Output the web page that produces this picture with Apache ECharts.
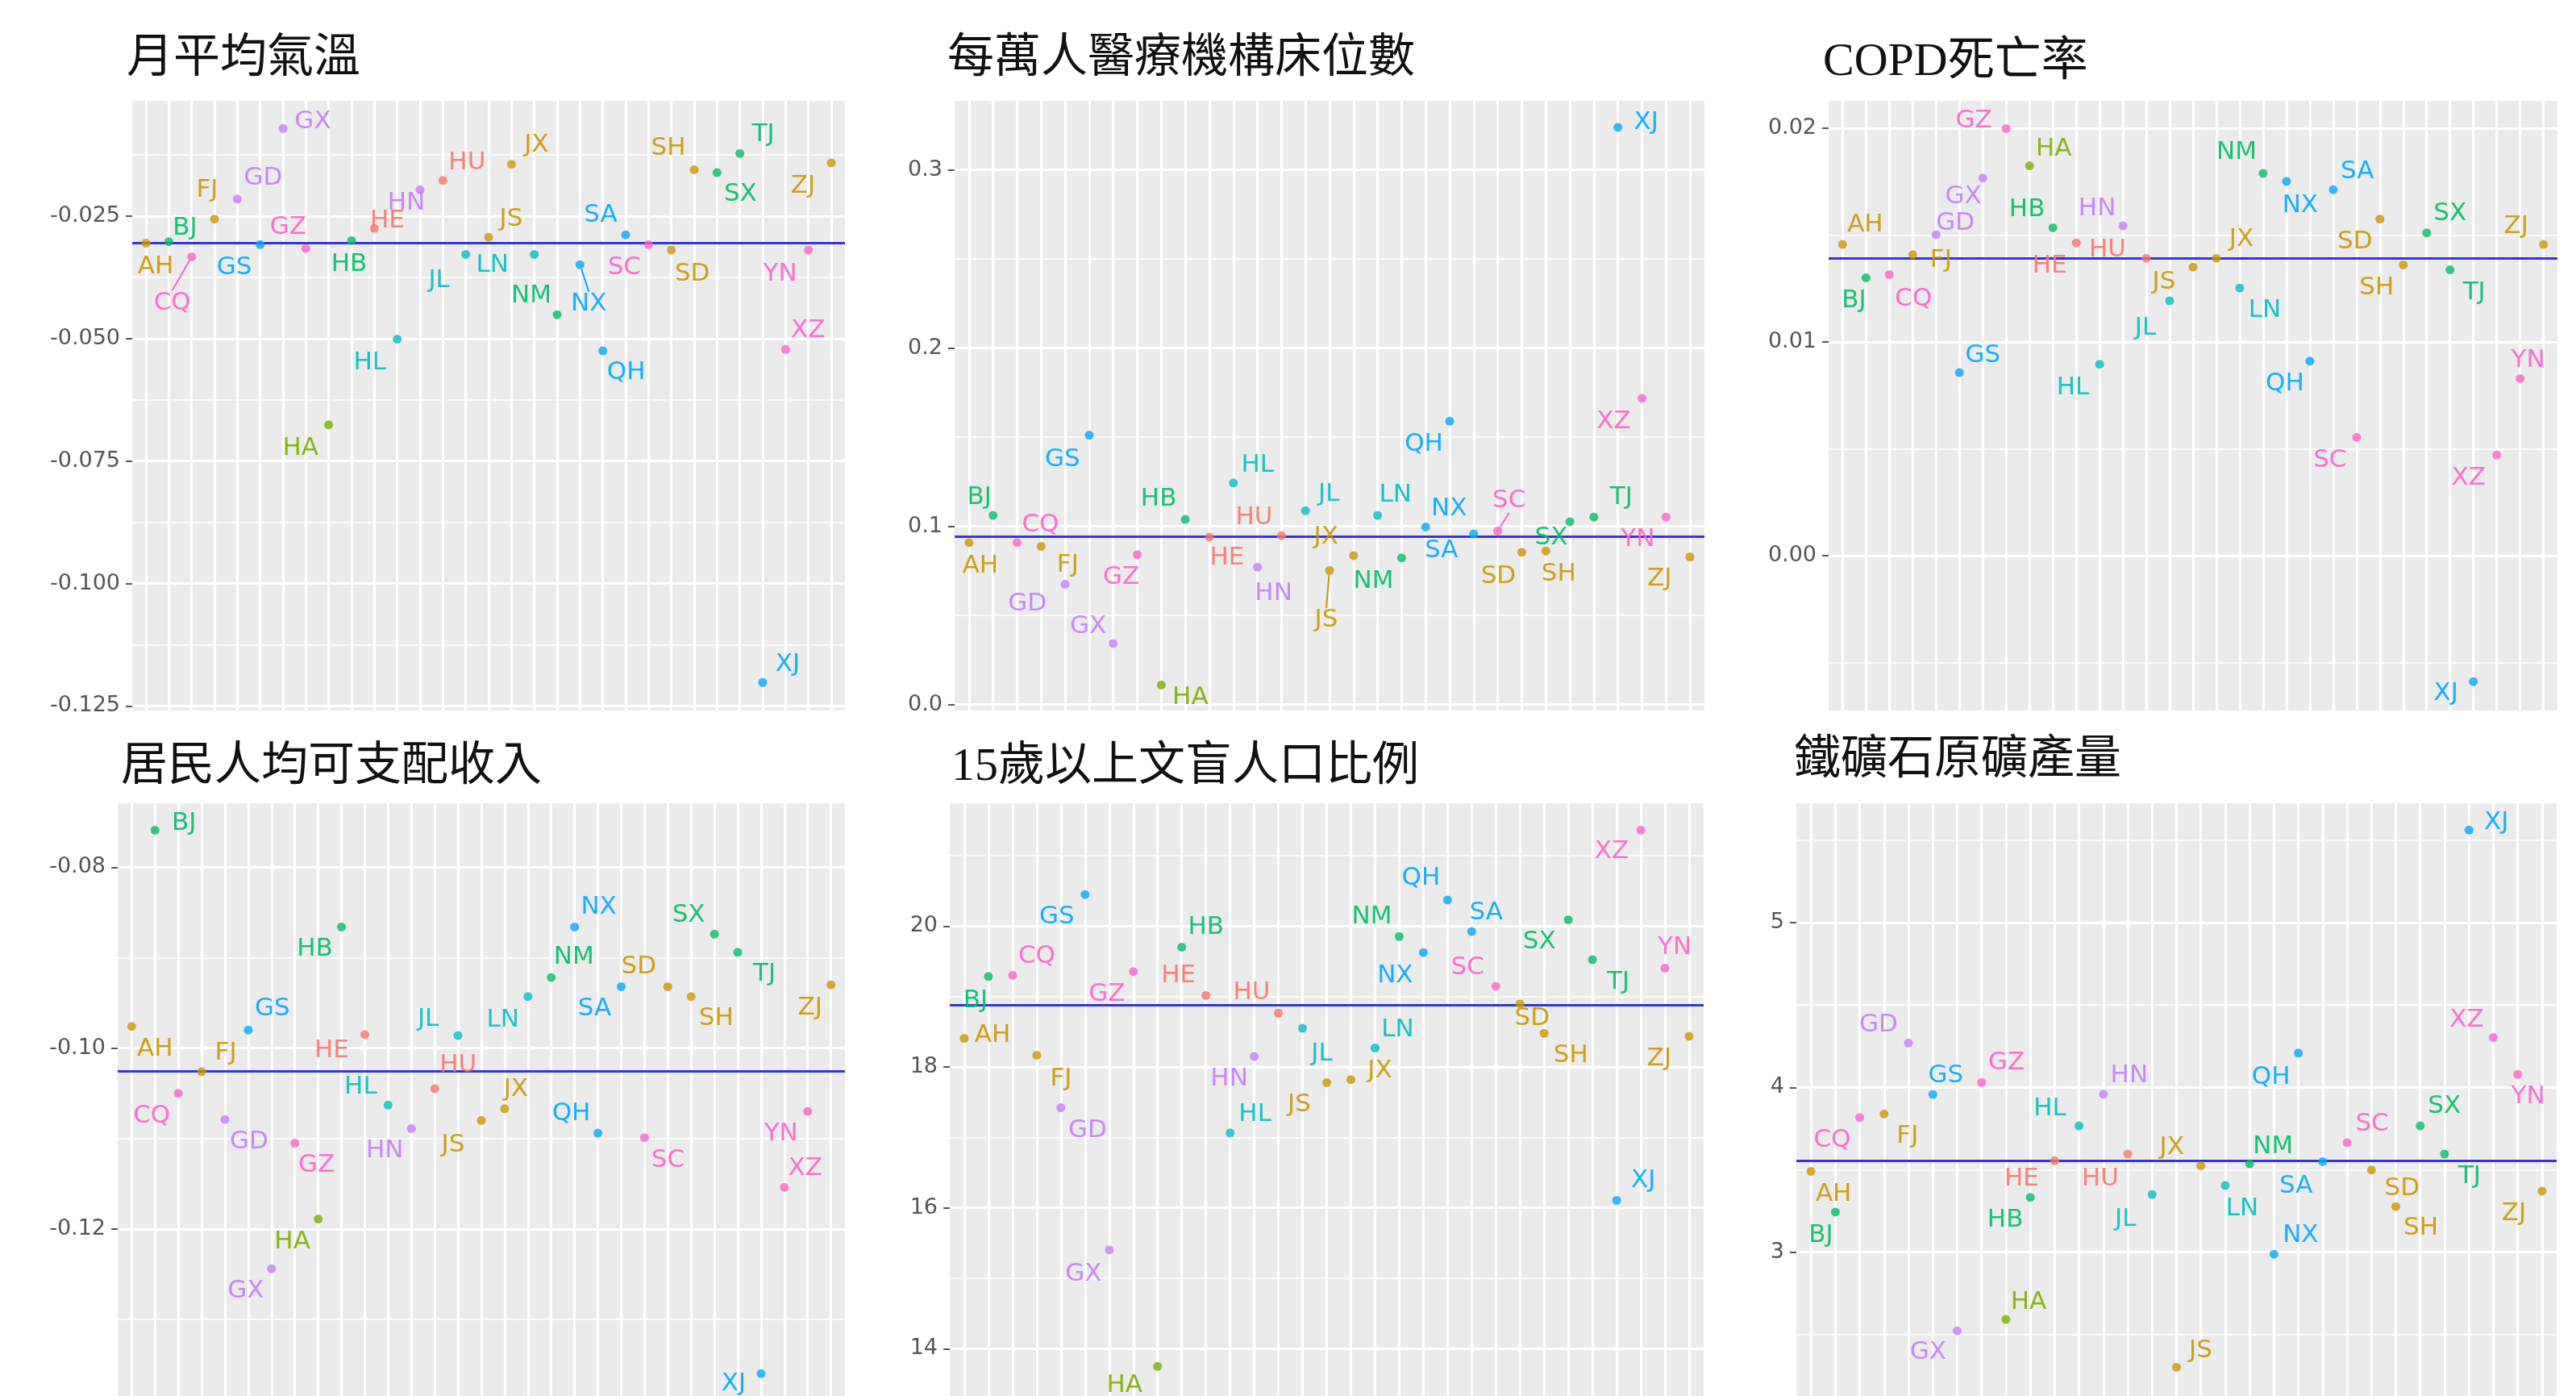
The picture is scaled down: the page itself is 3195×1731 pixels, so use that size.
<!DOCTYPE html>
<html><head><meta charset="utf-8">
<script src="https://cdn.jsdelivr.net/npm/echarts@6/dist/echarts.min.js"></script>
<style>html,body{margin:0;padding:0;background:#fff}#c{width:3195px;height:1731px}</style>
</head><body><div id="c"></div>
<script>
// ---------------- data ----------------
const provinces = ['AH','BJ','CQ','FJ','GD','GS','GX','GZ','HA','HB','HE','HL','HN','HU','JL','JS','JX','LN','NM','NX','QH','SA','SC','SD','SH','SX','TJ','XJ','XZ','YN','ZJ'];
// region group of each province (colour group)
const provinceRegion = [1,3,7,1,6,5,6,7,2,3,0,4,6,0,4,1,1,4,3,5,5,5,7,1,1,3,3,5,7,7,1];
const regionColors = ['#F8766D','#CD9600','#7CAE00','#00BE67','#00BFC4','#00A9FF','#C77CFF','#FF61CC'];

const panelTitles = ['月平均氣溫','每萬人醫療機構床位數','COPD死亡率','居民人均可支配收入','15歲以上文盲人口比例','鐵礦石原礦產量'];

const monthlyTemperature = [-0.0305,-0.0302,-0.0333,-0.0256,-0.0215,-0.0308,-0.0071,-0.0316,-0.0676,-0.0300,-0.0275,-0.0501,-0.0196,-0.0177,-0.0328,-0.0293,-0.0144,-0.0328,-0.0451,-0.0349,-0.0525,-0.0288,-0.0308,-0.0319,-0.0155,-0.0161,-0.0122,-0.1202,-0.0522,-0.0319,-0.0141];
const hospitalBeds = [0.0909,0.1062,0.0909,0.0888,0.0675,0.1512,0.0343,0.0842,0.0110,0.1039,0.0940,0.1244,0.0771,0.0948,0.1088,0.0753,0.0836,0.1062,0.0823,0.0997,0.1590,0.0958,0.0974,0.0855,0.0862,0.1026,0.1052,0.3239,0.1719,0.1052,0.0829];
const copdMortality = [0.01456,0.01300,0.01315,0.01408,0.01502,0.00856,0.01767,0.01998,0.01824,0.01534,0.01463,0.00895,0.01543,0.01391,0.01192,0.01350,0.01391,0.01252,0.01788,0.01751,0.00910,0.01712,0.00553,0.01575,0.01360,0.01510,0.01337,-0.00590,0.00470,0.00828,0.01456];
const disposableIncome = [-0.0976,-0.0759,-0.1050,-0.1026,-0.1079,-0.0980,-0.1244,-0.1105,-0.1189,-0.0866,-0.0985,-0.1063,-0.1089,-0.1045,-0.0986,-0.1080,-0.1067,-0.0943,-0.0922,-0.0866,-0.1094,-0.0932,-0.1099,-0.0932,-0.0943,-0.0874,-0.0894,-0.1360,-0.1154,-0.1070,-0.0930];
const illiteracyRate = [18.406,19.284,19.301,18.167,17.421,20.448,15.403,19.355,13.750,19.701,19.015,17.063,18.149,18.764,18.549,17.779,17.821,18.269,19.851,19.624,20.370,19.922,19.146,18.896,18.478,20.090,19.522,16.107,21.361,19.403,18.436];
const ironOreOutput = [3.490,3.243,3.817,3.838,4.269,3.957,2.522,4.029,2.591,3.332,3.554,3.766,3.958,3.595,3.350,2.300,3.524,3.404,3.536,2.987,4.208,3.549,3.664,3.498,3.276,3.766,3.595,5.562,4.303,4.078,3.370];

const referenceLevels = [-0.0305, 0.0945, 0.01391, -0.10256, 18.878, 3.554];

const yTickValues = [
  [-0.125,-0.100,-0.075,-0.050,-0.025],
  [0.0,0.1,0.2,0.3],
  [0.00,0.01,0.02],
  [-0.12,-0.10,-0.08],
  [14,16,18,20],
  [3,4,5]
];
const yTickLabels = [
  ['-0.125','-0.100','-0.075','-0.050','-0.025'],
  ['0.0','0.1','0.2','0.3'],
  ['0.00','0.01','0.02'],
  ['-0.12','-0.10','-0.08'],
  ['14','16','18','20'],
  ['3','4','5']
];
const yMinorValues = [
  [-0.1125,-0.0875,-0.0625,-0.0375,-0.0125],
  [0.05,0.15,0.25],
  [-0.005,0.005,0.015],
  [-0.13,-0.11,-0.09],
  [15,17,19,21],
  [2.5,3.5,4.5,5.5]
];

// ---------------- layout / style ----------------
const seriesValues = [monthlyTemperature, hospitalBeds, copdMortality, disposableIncome, illiteracyRate, ironOreOutput];
const panelRects = [
  {left:164, top:125, width:884, height:756},
  {left:1184, top:125, width:930, height:756},
  {left:2268, top:125, width:904, height:756},
  {left:146, top:996, width:902, height:756},
  {left:1178, top:996, width:935, height:756},
  {left:2228, top:996, width:943, height:756}
];
const yRanges = [[-0.12592,-0.00144],[-0.0033,0.3388],[-0.00725,0.02128],[-0.13847,-0.07292],[13.33,21.743],[2.126,5.725]];
const titlePos = [[157,44],[1175,44],[2261,48],[150,922],[1180,922],[2225,914]];
const labelNudges = [
  [[12,29],[20,-17],[-24,57],[-9,-36],[32,-26],[-32,29],[37,-8],[-22,-26],[-35,29],[-3,30],[16,-9],[-34,29],[-17,17],[30,-22],[-33,32],[28,-22],[31,-24],[-52,13],[-32,-23],[11,49],[29,27],[-31,-24],[-30,29],[26,30],[-32,-26],[29,27],[29,-23],[31,-22],[28,-23],[-35,30],[-35,29]],
  [[14,29],[-17,-22],[29,-22],[33,23],[-47,24],[-33,30],[-31,-21],[-20,28],[36,16],[-33,-25],[22,26],[30,-22],[20,33],[-34,-22],[29,-20],[-4,62],[-34,-23],[22,-25],[-35,29],[29,-22],[-32,29],[-40,21],[14,-38],[-29,30],[16,29],[-23,20],[34,-24],[35,-6],[-35,29],[-35,28],[-38,27]],
  [[28,-24],[-15,29],[30,31],[35,7],[24,-14],[29,-21],[-24,23],[-40,-9],[30,-21],[-32,-22],[-33,29],[-33,29],[-32,-21],[-48,-10],[-30,34],[-36,19],[31,-23],[31,28],[-33,-26],[17,30],[-31,28],[30,-22],[-33,29],[-31,28],[-33,28],[29,-24],[30,28],[-34,15],[-35,29],[10,-23],[-34,-22]],
  [[29,28],[36,-8],[-33,28],[30,-23],[30,28],[30,-26],[-32,28],[27,28],[-32,28],[-33,28],[-41,20],[-34,-22],[-33,28],[29,-29],[-37,-20],[-35,31],[14,-24],[-31,29],[28,-25],[30,-24],[-33,-24],[-33,28],[29,28],[-36,-24],[31,27],[-32,-23],[33,27],[-34,13],[26,-23],[-33,28],[-26,29]],
  [[35,-4],[-16,30],[30,-23],[30,30],[33,28],[-35,28],[-32,30],[-33,28],[-41,24],[30,-24],[-34,-24],[31,-23],[-31,28],[-33,-25],[24,32],[-34,28],[36,-11],[28,-23],[-34,-24],[-35,29],[-33,-27],[18,-23],[-35,-23],[15,18],[33,28],[-36,28],[32,28],[33,-24],[-36,27],[12,-25],[-37,28]],
  [[28,29],[-18,29],[-34,28],[29,28],[-37,-22],[16,-23],[-36,27],[31,-24],[28,-21],[-31,28],[-41,23],[-36,-21],[32,-23],[-34,31],[-33,31],[30,-21],[-36,-23],[21,29],[29,-21],[33,-23],[-34,30],[-33,31],[31,-23],[38,23],[31,27],[30,-24],[31,28],[34,-9],[-33,-21],[13,28],[-35,28]]
];
const segmentLabels = [[2,19],[15,22],[],[],[],[]];

const TITLE_FONT = "'Liberation Serif','Noto Sans CJK TC','Noto Sans CJK SC',serif";
const TEXT_FONT = "'DejaVu Sans','Liberation Sans',sans-serif";

const chart = echarts.init(document.getElementById('c'), null, {renderer:'canvas', width:3195, height:1731});

const grids = [], xAxes = [], yAxes = [], series = [], titles = [];
for (let p = 0; p < 6; p++) {
  const r = panelRects[p];
  grids.push({left:r.left, top:r.top, width:r.width, height:r.height, show:true, backgroundColor:'#EBEBEB', borderWidth:0});
  xAxes.push({gridIndex:p, type:'value', min:0.4, max:provinces.length + 0.6, show:false});
  const ticks = yTickValues[p], labs = yTickLabels[p];
  yAxes.push({
    gridIndex:p, type:'value', min:yRanges[p][0], max:yRanges[p][1],
    axisLine:{show:false},
    axisTick:{show:true, length:8, lineStyle:{color:'#555', width:2}, customValues:ticks},
    axisLabel:{show:true, customValues:ticks, margin:15, color:'#555555', fontFamily:TEXT_FONT, fontSize:27,
      formatter:function(v){ for (let k=0;k<ticks.length;k++){ if (Math.abs(ticks[k]-v) < 1e-9) return labs[k]; } return ''; }},
    splitLine:{show:false}
  });
  titles.push({text:panelTitles[p], left:titlePos[p][0], top:titlePos[p][1], padding:0,
    textStyle:{fontFamily:TITLE_FONT, fontSize:58, lineHeight:60, fontWeight:'normal', color:'#111'}});

  // background grid lines (library scale driven)
  const gl = [];
  provinces.forEach((_, i) => gl.push({xAxis:i+1, lineStyle:{color:'#ffffff', width:3, type:'solid'}}));
  yMinorValues[p].forEach(v => gl.push({yAxis:v, lineStyle:{color:'#ffffff', width:1.6, type:'solid'}}));
  ticks.forEach(v => gl.push({yAxis:v, lineStyle:{color:'#ffffff', width:3.2, type:'solid'}}));
  series.push({type:'line', xAxisIndex:p, yAxisIndex:p, data:[], z:1, silent:true,
    markLine:{z:1, silent:true, precision:8, symbol:['none','none'], animation:false, label:{show:false}, emphasis:{disabled:true}, data:gl}});
  // reference (mean) line
  series.push({type:'line', xAxisIndex:p, yAxisIndex:p, data:[], z:2, silent:true,
    markLine:{z:2, silent:true, precision:8, symbol:['none','none'], animation:false, label:{show:false}, emphasis:{disabled:true},
      lineStyle:{color:'#3434DC', width:3, type:'solid'}, data:[{yAxis:referenceLevels[p]}]}});
  // points
  const vals = seriesValues[p];
  const data = vals.map((v, i) => {
    const col = regionColors[provinceRegion[i]];
    const item = {name:provinces[i], value:[i+1, v], itemStyle:{color:col}, label:{color:col}};
    if (segmentLabels[p].indexOf(i) >= 0) item.labelLine = {show:true, lineStyle:{color:col, width:2}};
    return item;
  });
  const nud = labelNudges[p];
  series.push({type:'scatter', xAxisIndex:p, yAxisIndex:p, z:10, symbol:'circle', symbolSize:11, animation:false,
    data:data,
    label:{show:true, position:'inside', formatter:'{b}', fontFamily:TEXT_FONT, fontSize:31, align:'center', verticalAlign:'middle', textBorderWidth:0, opacity:0.9},
    labelLine:{show:false, smooth:false, length2:0},
    labelLayout:function(params){ const n = nud[params.dataIndex]; return {dx:n[0], dy:n[1]}; },
    emphasis:{disabled:true}
  });
}

chart.setOption({
  backgroundColor:'#ffffff',
  animation:false,
  title:titles,
  grid:grids,
  xAxis:xAxes,
  yAxis:yAxes,
  series:series
});
</script>
</body></html>
